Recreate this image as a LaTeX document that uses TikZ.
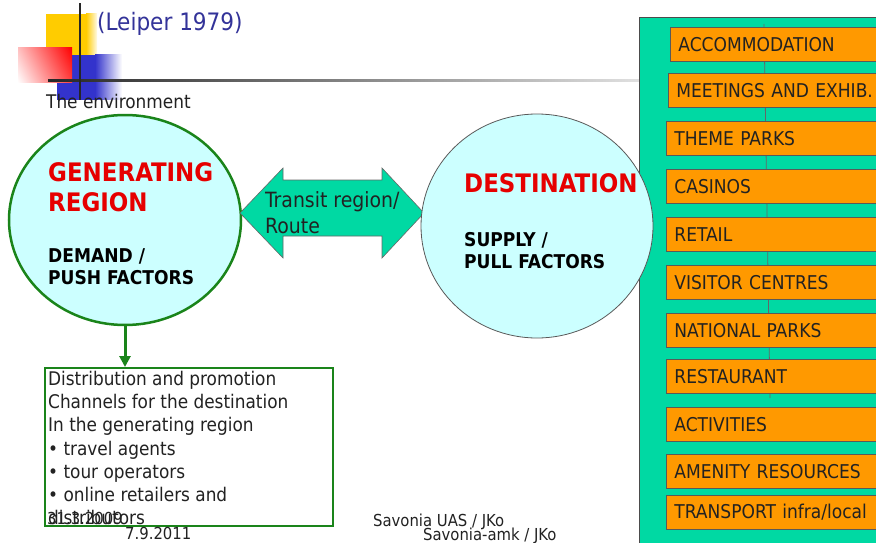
\documentclass[tikz,border=0pt]{standalone}
\usepackage{fontspec}
\IfFontExistsTF{DejaVu Sans Condensed}{\setmainfont{DejaVu Sans Condensed}}{\setmainfont[FakeStretch=0.9]{DejaVu Sans}}
\usetikzlibrary{shapes.geometric,arrows.meta,calc,shadings}

\definecolor{panelgreen}{HTML}{00D9A3}
\definecolor{boxorange}{HTML}{FF9900}
\definecolor{regioncyan}{HTML}{CCFFFF}
\definecolor{regionred}{HTML}{E60000}
\definecolor{edgegreen}{HTML}{1A841A}
\definecolor{titleblue}{HTML}{333399}
\definecolor{decoyellow}{HTML}{FFCC00}
\definecolor{decored}{HTML}{FF0000}
\definecolor{decoblue}{HTML}{3333CC}
\definecolor{inkgray}{HTML}{222222}

\newcommand\setfs[2]{\fontsize{#1}{#2}\selectfont}

\begin{document}
\begin{tikzpicture}[x=1pt,y=-1pt,
  facility/.style={draw=black!65, fill=boxorange, line width=0.8pt,
    anchor=north west, minimum height=34pt, text width=214pt, inner xsep=8pt,
    align=left, font=\setfs{19}{23}, text=inkgray},
  region/.style={ellipse, fill=regioncyan, inner sep=0pt},
  headline/.style={anchor=base west, inner sep=0pt, text=regionred,
    font=\bfseries\setfs{25.5}{29}},
  factors/.style={anchor=base west, inner sep=0pt, text=black,
    font=\bfseries\setfs{19}{22}},
  footer/.style={anchor=base west, inner sep=0pt, text=inkgray,
    font=\setfs{16.5}{18}}]

\useasboundingbox (0,0) rectangle (876,543);
\fill[white] (0,0) rectangle (876,543);

% corner ornament
\fill[decoyellow] (46,14) rectangle (86,64);
\shade[left color=decoyellow, right color=decoyellow!10] (86,14) rectangle (97,64);
\fill[decoblue] (57,55) rectangle (95,100);
\shade[left color=decoblue, right color=white] (95,55) rectangle (122,100);
\shade[upper left=decored!25, upper right=decored, lower right=decored!75, lower left=white]
  (18,48) rectangle (72,83);
\shade[left color=black!85, right color=black!12] (48,80) rectangle (640,82);
\fill[black!85] (79,3) rectangle (81,100);

% title and caption
\node[anchor=base west, inner sep=0pt, text=titleblue, font=\setfs{24}{27}] (title) at (97,31) {(Leiper 1979)};
\node[anchor=base west, inner sep=0pt, text=inkgray, font=\setfs{18.8}{20}] (env) at (46,108) {The environment};

% destination resources panel
\draw[fill=panelgreen, draw=black!70, line width=0.8pt] (639,17) rectangle (890,560);
\coordinate (spinetop) at (764,24);
\coordinate (spinebot) at (770,398);
\draw[black!60, line width=0.8pt] (spinetop) -- (spinebot);

\node[facility] (b1) at (670,27) {ACCOMMODATION};
\node[facility] (b2) at (668,73) {MEETINGS AND EXHIB.};
\node[facility] (b3) at (666,121) {THEME PARKS};
\node[facility] (b4) at (666,169) {CASINOS};
\node[facility] (b5) at (666,217) {RETAIL};
\node[facility] (b6) at (666,265) {VISITOR CENTRES};
\node[facility] (b7) at (666,313) {NATIONAL PARKS};
\node[facility] (b8) at (666,359) {RESTAURANT};
\node[facility] (b9) at (666,407) {ACTIVITIES};
\node[facility] (b10) at (666,454) {AMENITY RESOURCES};
\node[facility] (b11) at (666,495) {TRANSPORT infra/local};

% generating region
\node[region, draw=edgegreen, line width=2.5pt, minimum width=232pt, minimum height=210pt] (gen) at (125,220) {};
\node[headline] (genA) at (48,181) {GENERATING};
\node[headline] (genB) at (48,211) {REGION};
\node[factors] (genC) at (48,262) {DEMAND /};
\node[factors] (genD) at (48,284) {PUSH FACTORS};

% transit route between the regions
\coordinate (tipL) at (240,213);
\coordinate (tipR) at (424,213);
\draw[fill=panelgreen, draw=black!60, line width=0.6pt]
  (tipL) -- (283,168) -- (283,180) -- (382,180) -- (382,168) -- (tipR)
  -- (382,258) -- (382,236) -- (283,236) -- (283,258) -- cycle;
\node[anchor=base west, inner sep=0pt, text=inkgray, font=\setfs{21}{25}] (transitA) at (265,207) {Transit region/};
\node[anchor=base west, inner sep=0pt, text=inkgray, font=\setfs{21}{25}] (transitB) at (265,233) {Route};

% destination region
\node[region, draw=black!65, line width=0.8pt, minimum width=232pt, minimum height=224pt] (dest) at (537,226) {};
\node[headline] (destA) at (464,192) {DESTINATION};
\node[factors] (destB) at (464,246) {SUPPLY /};
\node[factors] (destC) at (464,268) {PULL FACTORS};

% distribution channels
\node[draw=edgegreen, line width=2pt, minimum width=288pt, minimum height=158pt,
  anchor=north west, inner sep=0pt] (distbox) at (44,367) {};
\draw[edgegreen, line width=3pt, -{Triangle[length=11pt,width=11pt]}]
  (gen.south) -- (gen.south |- distbox.north);
\node[anchor=north west, align=left, inner sep=0pt, text=inkgray, font=\setfs{18.8}{23.2}] (disttext) at (48,371)
  {Distribution and promotion\\Channels for the destination\\In the generating region\\• travel agents\\• tour operators\\• online retailers and\\distributors};

% footer
\node[footer] (date1) at (47,524) {31.3.2009};
\node[footer] (date2) at (125,539) {7.9.2011};
\node[footer] (org1) at (373,526) {Savonia UAS / JKo};
\node[footer] (org2) at (423,540) {Savonia-amk / JKo};
\end{tikzpicture}
\end{document}
